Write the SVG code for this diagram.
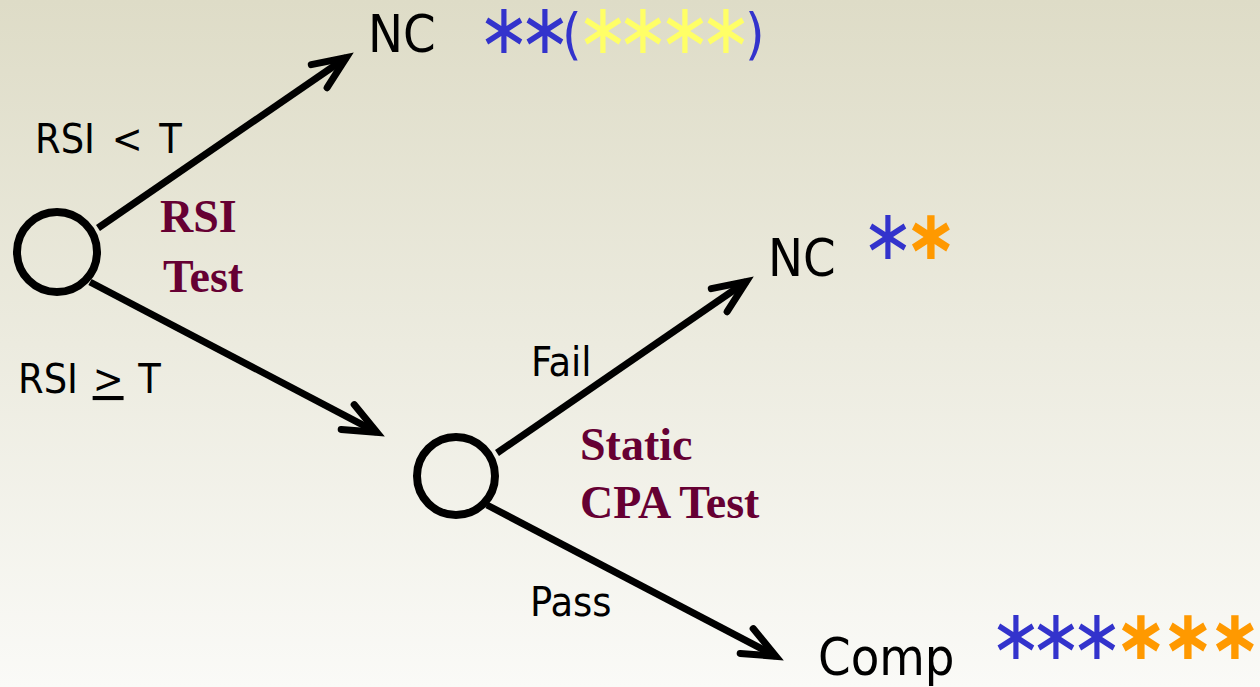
<svg xmlns="http://www.w3.org/2000/svg" width="1260" height="687" viewBox="0 0 1260 687">
<defs>
<linearGradient id="bg" x1="0" y1="0" x2="0" y2="1">
<stop offset="0" stop-color="#DEDCC7"/>
<stop offset="1" stop-color="#FAFAF7"/>
</linearGradient>
<marker id="ah" markerUnits="userSpaceOnUse" viewBox="-45 -25 55 50" refX="0" refY="0" markerWidth="55" markerHeight="50" orient="auto" overflow="visible">
<path d="M -33,-14 L 0,0 L -33,14" fill="none" stroke="#000" stroke-width="7" stroke-linecap="round" stroke-linejoin="miter" stroke-miterlimit="10"/>
</marker>
<style>
.node{fill:none;stroke:#000;stroke-width:8}
.edge{fill:none;stroke:#000;stroke-width:7;marker-end:url(#ah)}
.big{font-family:"DejaVu Sans Condensed","DejaVu Sans",sans-serif;font-size:52px;fill:#000}
.lbl{font-family:"DejaVu Sans Condensed","DejaVu Sans",sans-serif;font-size:41px;fill:#000}
.ast{font-family:"DejaVu Sans Condensed","DejaVu Sans",sans-serif;font-size:70px;text-anchor:middle}
.par{font-family:"DejaVu Sans Condensed","DejaVu Sans",sans-serif;font-size:56px;fill:#3333CC;text-anchor:start}
.test{font-family:"Liberation Serif","Times New Roman",serif;font-weight:bold;font-size:46px;fill:#660033}
.blue{fill:#3333CC}
.yel{fill:#FFFF66}
.org{fill:#FF9900;font-weight:bold}
</style>
</defs>
<rect width="1260" height="687" fill="url(#bg)"/>
<g id="connectors">
<path class="edge" d="M 98,228 L 346.4,57.5"/>
<path class="edge" d="M 90,282 L 376.9,432.3"/>
<path class="edge" d="M 497,453 L 746.4,281.5"/>
<path class="edge" d="M 487,505 L 775.9,656.3"/>
</g>
<g id="rsi-node">
<circle class="node" cx="57" cy="252" r="40"/>
<text class="test" x="160" y="232">RSI</text>
<text class="test" x="163" y="292">Test</text>
</g>
<g id="cpa-node">
<circle class="node" cx="456" cy="476" r="39"/>
<text class="test" x="580" y="460">Static</text>
<text class="test" x="580" y="518">CPA Test</text>
</g>
<g id="nc-top">
<text class="big" x="368" y="52">NC</text>
<text class="par" y="53"><tspan class="ast blue" x="504 545">∗∗</tspan><tspan class="par" x="562">(</tspan><tspan class="ast yel" x="603 643 685 726">∗∗∗∗</tspan><tspan class="par" x="745">)</tspan></text>
</g>
<g id="nc-mid">
<text class="big" x="768" y="276">NC</text>
<text class="ast" y="259"><tspan class="blue" x="888">∗</tspan><tspan class="org" x="931">∗</tspan></text>
</g>
<g id="comp">
<text class="big" x="818" y="675">Comp</text>
<text class="ast" y="659"><tspan class="blue" x="1016 1056 1097">∗∗∗</tspan><tspan class="org" x="1141 1188 1235">∗∗∗</tspan></text>
</g>
<g id="labels">
<text class="lbl" x="35" y="153" word-spacing="5">RSI &lt; T</text>
<text class="lbl" x="18" y="393" word-spacing="3">RSI <tspan text-decoration="underline">&gt;</tspan> T</text>
<text class="lbl" x="531" y="376">Fail</text>
<text class="lbl" x="530" y="616">Pass</text>
</g>
</svg>
